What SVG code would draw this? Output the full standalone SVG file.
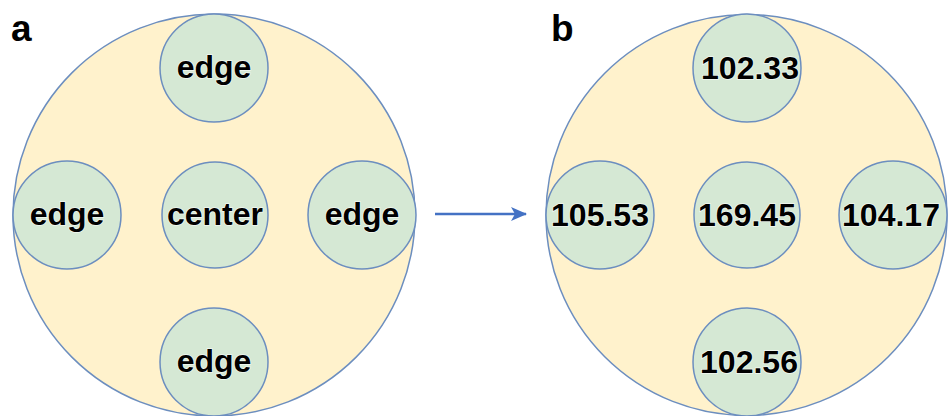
<svg xmlns="http://www.w3.org/2000/svg" width="948" height="416" viewBox="0 0 948 416">
  <style>
    .plate { fill: #fff2cc; stroke: #6c8ebf; stroke-width: 1.5; }
    .spot { fill: #d5e8d4; stroke: #6c8ebf; stroke-width: 1.5; }
    .lbl { font-family: "Liberation Sans", Arial, sans-serif; font-weight: bold; font-size: 32px; fill: #000; text-anchor: middle; stroke: #ffffff; stroke-width: 1.5; stroke-opacity: 0.7; paint-order: stroke; }
    .panel { font-family: "Liberation Sans", Arial, sans-serif; font-weight: bold; font-size: 37px; fill: #000; }
    .link { stroke: #4472c4; stroke-width: 2.5; fill: none; }
  </style>
  <defs>
    <marker id="arrowhead" viewBox="0 0 16 16" refX="15" refY="8" markerWidth="16" markerHeight="16" markerUnits="userSpaceOnUse" orient="auto">
      <path d="M0,1 L16,8 L0,15 L4,8 Z" fill="#4472c4"/>
    </marker>
  </defs>

  <rect width="948" height="416" fill="#ffffff"/>

  <!-- panel a: sampling positions -->
  <g id="panel-a">
    <text class="panel" x="11" y="41">a</text>
    <circle class="plate" cx="214" cy="215" r="201"/>
  </g>
  <g id="a-top"><circle class="spot" cx="214" cy="68" r="54"/><text class="lbl" x="214" y="78">edge</text></g>
  <g id="a-left"><circle class="spot" cx="67" cy="215" r="54"/><text class="lbl" x="67" y="225">edge</text></g>
  <g id="a-center"><circle class="spot" cx="215" cy="215" r="53"/><text class="lbl" x="215" y="225">center</text></g>
  <g id="a-right"><circle class="spot" cx="362" cy="215" r="54"/><text class="lbl" x="362" y="225">edge</text></g>
  <g id="a-bottom"><circle class="spot" cx="214" cy="362" r="54"/><text class="lbl" x="214" y="372">edge</text></g>

  <!-- panel b: measured values -->
  <g id="panel-b">
    <text class="panel" x="551" y="41">b</text>
    <circle class="plate" cx="746.5" cy="215" r="200.5"/>
  </g>
  <g id="b-top"><circle class="spot" cx="747" cy="68" r="54"/><text class="lbl" x="750" y="79">102.33</text></g>
  <g id="b-left"><circle class="spot" cx="600" cy="215" r="54"/><text class="lbl" x="600" y="226">105.53</text></g>
  <g id="b-center"><circle class="spot" cx="747" cy="215" r="53"/><text class="lbl" x="747" y="226">169.45</text></g>
  <g id="b-right"><circle class="spot" cx="893" cy="215" r="54"/><text class="lbl" x="891" y="226">104.17</text></g>
  <g id="b-bottom"><circle class="spot" cx="747" cy="362" r="54"/><text class="lbl" x="749" y="373">102.56</text></g>

  <g id="connectors">
    <line class="link" x1="435" y1="214" x2="526" y2="214" marker-end="url(#arrowhead)"/>
  </g>
</svg>
